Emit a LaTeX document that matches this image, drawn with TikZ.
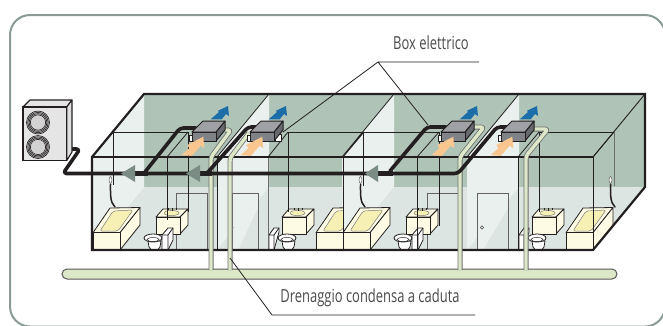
\documentclass[tikz,border=0pt]{standalone}
\usepackage{fontspec}
\setmainfont[FakeStretch=0.72]{Open Sans}
\definecolor{bordc}{HTML}{8A9B94}
\definecolor{backw}{HTML}{AFC4B7}
\definecolor{sidew}{HTML}{E9F0EE}
\definecolor{floorc}{HTML}{DCE5E1}
\definecolor{ink}{HTML}{231F20}
\definecolor{tubc}{HTML}{FDFBE4}
\definecolor{basinc}{HTML}{F6F0B5}
\definecolor{pipec}{HTML}{DDE8C9}
\definecolor{bluec}{HTML}{1C6EA8}
\definecolor{orangec}{HTML}{F9C690}
\definecolor{graya}{HTML}{7F8388}
\definecolor{grayb}{HTML}{A0A1A5}
\definecolor{arrowc}{HTML}{7B8C85}
\definecolor{labelc}{HTML}{4A4A4A}
\tikzset{
  thin line/.style={draw=ink,line width=0.8pt},
  gray line/.style={draw=ink!65,line width=0.9pt},
  fixture/.style={draw=ink,line width=0.8pt,fill=tubc,line join=round},
  leader/.style={draw=ink,line width=0.8pt},
  label text/.style={text=labelc,font=\fontsize{18}{20}\selectfont,inner sep=0pt},
  hose/.style={draw=ink,line width=1.5pt,line cap=round},
  main pipe/.style={draw=ink,line width=3.6pt,line join=round,line cap=round,rounded corners=3.5pt},
  thick pipe/.style={draw=ink,line width=5.4pt},
  drain out/.style={draw=ink!65,line width=5pt,line join=round,rounded corners=3pt},
  drain in/.style={draw=pipec,line width=3.4pt,line join=round,rounded corners=3pt},
  flow/.style={fill=arrowc,draw=none}
}
\newcommand{\tubshape}[1]{\begin{scope}[shift={(#1,0)}]
  \path[fixture] (93,232.7)--(110,208)--(140,207.5)--(120,232.7)--cycle;
  \path[fixture] (120,232.7)--(140,207.5)--(140,225)--(120,250)--cycle;
  \path[fixture] (93,232.7)rectangle(120,250);
  \path[draw=ink!60,line width=.5pt,fill=basinc,rounded corners=2pt] (100,231)--(113,211)--(133,210)--(118,231)--cycle;
\end{scope}}
\newcommand{\sinkshape}[1]{\begin{scope}[shift={(#1,0)}]
  \path[fixture] (156,217)--(163,209)--(188,209)--(180,217)--cycle;
  \path[fixture] (180,217)--(188,209)--(188,225)--(180,234)--cycle;
  \path[fixture] (156,217)rectangle(180,234);
  \path[draw=ink!60,line width=.5pt,fill=basinc] (171.5,213) ellipse (7.5 and 2.6);
  \path[draw=ink,line width=.8pt] (168,208)--(168,210) (172,207.5)--(172,210.5) (176,208)--(176,210);
\end{scope}}
\newcommand{\bowlshape}[1]{\begin{scope}[shift={(#1,0)}]
  \path[fixture,fill=white] (148,241)--(149,247)--(151,249.5)--(158,249.5)--(160,247)--(161,241)--cycle;
  \path[fixture,fill=white] (153,238) ellipse (9 and 4);
  \path[draw=ink,line width=.5pt] (153,239.5) ellipse (6 and 2);
\end{scope}}
\newcommand{\boxshape}[1]{\begin{scope}[shift={(#1,0)}]
  \path[draw=ink,line width=1pt,fill=graya!80!black,line join=round] (216,132)--(225,121)--(225,130)--(216,141)--cycle;
  \path[draw=ink,line width=1pt,fill=grayb,line join=round] (192,132)--(203,121)--(225,121)--(216,132)--cycle;
  \path[draw=ink,line width=1pt,fill=graya] (192,132)rectangle(216,141);
\end{scope}}
\newcommand{\blueshape}[1]{\begin{scope}[shift={(#1,0)}]
  \path[fill=bluec] (210.7,119.3)--(219,112)--(218,110.7)--(228,106)--(229,116)--(226,114)--(221.7,119.3)--cycle;
\end{scope}}
\newcommand{\orangeshape}[1]{\begin{scope}[shift={(#1,0)}]
  \path[fill=orangec] (181.7,155)--(189.3,148.3)--(187.3,145)--(203.3,136.7)--(204.3,148.3)--(200.7,145.7)--(191.7,156)--cycle;
\end{scope}}
\newcommand{\drainpipe}[1]{\path[drain out] #1; \path[drain in] #1;}
\begin{document}
\begin{tikzpicture}[x=1pt,y=-1pt]
\useasboundingbox (0,0) rectangle (663,325);
% outer frame
\path[draw=bordc,line width=2pt,rounded corners=20pt] (10,15)--(10,326.5)--(665,326.5)--(665,15)--cycle;
% room fills
\path[fill=backw] (144,94) rectangle (645,187);
\path[fill=floorc] (144,187)--(645,187)--(593,250)--(92,250)--cycle;
\foreach \d in {0,125,250,375}{
  \path[fill=sidew] (144+\d,94)--(144+\d,187)--(92+\d,250)--(92+\d,157)--cycle;
}
% doors
\foreach \a/\b in {176/207,427/458}{
  \path[draw=ink!70,fill=floorc,line width=.9pt] (\a,250)--(\a,193)--(\b,193)--(\b,250);
}
\foreach \a/\b in {232/258,477/508}{
  \path[fill=floorc] (\a,193) rectangle (\b,250);
  \path[fill=sidew] (\a,193)--(\b,193)--(\b,208)--(\a+6,250)--(\a,250)--cycle;
  \path[draw=ink!70,line width=.9pt] (\a,250)--(\a,193)--(\b,193)--(\b,250);
}
\path[draw=ink!70,fill=white,line width=.6pt] (482,227.5) circle (1.6);
\path[draw=ink!70,fill=white,line width=.6pt] (232,227.5) circle (1.2);
\path[draw=ink!70,fill=white,line width=.6pt] (181,228) circle (1.4);
\path[draw=ink!70,fill=white,line width=.6pt] (431,228) circle (1.4);
% room frames
\foreach \l/\r in {113/188,288/364,363/439,539/614}{
  \path[thin line] (\l,132)--(\r,132);
}
\path[thin line] (113,132)--(92,157) (188,132)--(167,157)
  (288,132)--(268,157) (364,132)--(343,157)
  (363,132)--(343,157) (439,132)--(417,157)
  (539,132)--(518,157) (614,132)--(593,157);
\foreach \d in {0,125,250,375}{
  \path[thin line] (144+\d,94)--(92+\d,157);
}
% fixtures
\tubshape{0}
\begin{scope}
\clip (300,190) rectangle (343,251);
\tubshape{223}
\end{scope}
\tubshape{250}
\tubshape{473}
\sinkshape{0}\sinkshape{126}\sinkshape{250}\sinkshape{376}
% toilet tanks
\foreach \d in {0,250}{
  \path[fixture,fill=white] (162+\d,235)--(168+\d,228)--(173+\d,228)--(173+\d,240)--(168+\d,250)--(162+\d,250)--cycle;
  \path[thin line] (168+\d,250)--(168+\d,235)--(173+\d,228) (162+\d,235)--(168+\d,235);
}
\foreach \d in {0,250}{
  \path[fixture,fill=white] (269+\d,235)--(274+\d,228)--(279+\d,228)--(279+\d,232)--(274+\d,250)--(269+\d,250)--cycle;
  \path[thin line] (274+\d,250)--(274+\d,235)--(279+\d,228) (269+\d,235)--(274+\d,235);
}
\bowlshape{0}\bowlshape{134}\bowlshape{250}\bowlshape{384}
% hoses
\foreach \d in {0,250,500}{
  \path[hose] (115+\d,207)..controls(110+\d,202)and(110.5+\d,195)..(110.5+\d,184);
  \path[draw=ink!70,fill=white,line width=.5pt] (110.5+\d,180) ellipse (1.4 and 3.5);
}
% verticals
\path[thin line] (113,132)--(113,185) (167,157)--(167,220) (188,132)--(188,212)
  (217,157)--(217,250) (288,132)--(288,212) (363,132)--(363,186)
  (343,157)--(343,250) (417,157)--(417,250) (439,132)--(439,226)
  (518,157)--(518,250) (539,132)--(539,212) (593,157)--(593,250);
\path[gray line] (268,157)--(268,250) (614,132)--(614,186);
% outlines
\path[draw=ink,line width=1.4pt] (92,157)--(593,157);
\path[draw=ink,line width=2.2pt,line join=miter] (144,94)--(645,94)--(645,187)--(593,250)--(92,250)--(92,157)--cycle;
\path[draw=ink,line width=.9pt] (593,157)--(645,94);
% floor drain bar
\path[fill=pipec,draw=ink!75,line width=1pt,rounded corners=5pt] (62,269) rectangle (617,279);
% drain pipes
\drainpipe{(225,130)--(231,130)--(211,157)--(211,270)}
\drainpipe{(249,133)--(230,158)--(230,270)}
\drainpipe{(474,127)--(484,127)--(460,157)--(460,270)}
\drainpipe{(532,129)--(548,129)--(526,156)--(526,270)}
% main refrigerant pipes
\path[main pipe] (72,149)--(80,149)--(63,173.5)--(458,173.5)--(497,127)--(508,127);
\path[main pipe] (145,172)--(180,128)--(196,128);
\path[main pipe] (208,172)--(248,127)--(256,127);
\path[main pipe] (390,171)--(427,127)--(446,127);
\path[thick pipe] (130,173.5)--(148,173.5);
\path[thick pipe] (196,173.5)--(212,173.5);
\path[thick pipe] (374,173.5)--(393,173.5);
\path[flow] (121,173.5)--(135,165)--(135,182)--cycle;
\path[flow] (186,173.5)--(200,165)--(200,182)--cycle;
\path[flow] (365,173.5)--(378,165)--(378,182)--cycle;
% boxes
\path[fixture,fill=white,line width=.6pt] (189,135) rectangle (192,141);
\path[fixture,fill=white,line width=.6pt] (247.5,135) rectangle (250,141);
\path[fixture,fill=white,line width=.6pt] (438,135) rectangle (441,141);
\path[fixture,fill=white,line width=.6pt] (498,135) rectangle (501,141);
\path[fixture,fill=white,line width=.6pt] (275,134) rectangle (281,141);
\foreach \d in {0,58,249,309}{\boxshape{\d}\blueshape{\d}}
\foreach \d in {0,59,250,309}{\orangeshape{\d}}
% outdoor unit
\path[draw=ink,line width=1.1pt,fill=gray!20,line join=round] (23,107)--(30,100)--(72,100)--(66.7,107)--cycle;
\path[draw=ink,line width=1.1pt,fill=gray!25,line join=round] (66.7,107)--(72,100)--(72,152)--(66.7,160.7)--cycle;
\path[draw=ink,line width=1.1pt,fill=gray!20] (23,107) rectangle (66.7,160.7);
\foreach \y in {122.5,147}{
  \path[fill=gray!50] (38,\y) circle (11.7);
  \foreach \r in {11.5,10.2,8.9,7.6}{\path[draw=ink,line width=.6pt] (38,\y) circle (\r);}
  \path[fill=gray!35] (38,\y) circle (7);
}
% labels
\node[label text] (boxlabel) at (431,43) {Box elettrico};
\node[label text] (drainlabel) at (370,298) {Drenaggio condensa a caduta};
\coordinate (boxhub) at (378,62);
\coordinate (boxend) at (479,62);
\coordinate (boxa) at (283,132);
\coordinate (boxb) at (428,125);
\coordinate (drainstart) at (230,258);
\coordinate (drainhub) at (272,315);
\coordinate (drainend) at (475,315);
\path[leader] (boxa)--(boxhub)--(boxb) (boxhub)--(boxend);
\path[leader] (drainstart)--(drainhub)--(drainend);
\end{tikzpicture}
\end{document}
